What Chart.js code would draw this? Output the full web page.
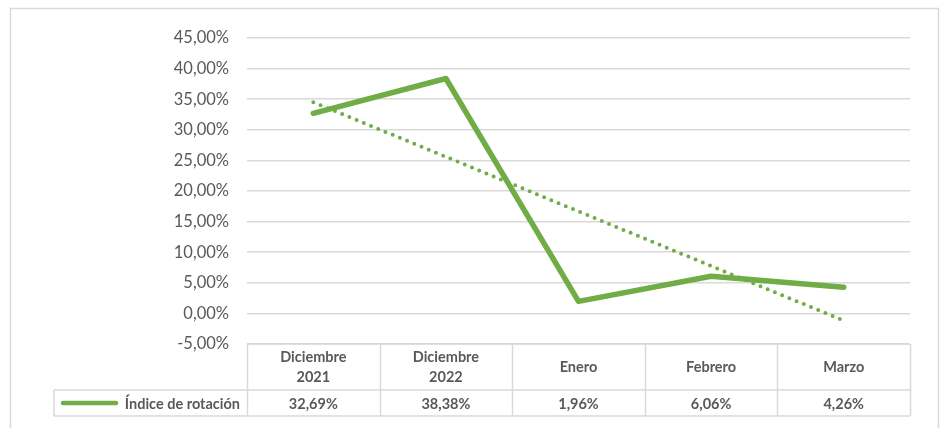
<!DOCTYPE html>
<html lang="es">
<head>
    <meta charset="UTF-8">
    <title>Índice de rotación</title>
    <script src="https://cdn.jsdelivr.net/npm/chart.js"></script>
    <style>
        html, body { margin: 0; padding: 0; background: #fff; }
        #wrap { width: 940px; height: 428px; position: relative; }
    </style>
</head>
<body>
    <div id="wrap"><canvas id="grafico"></canvas></div>

    <script>
        // datos
        const categorias = [['Diciembre', '2021'], ['Diciembre', '2022'], ['Enero'], ['Febrero'], ['Marzo']];
        const serieNombre = 'Índice de rotación';
        const indiceRotacion = [32.69, 38.38, 1.96, 6.06, 4.26];
        // linea de tendencia (extremos)
        const tendenciaInicio = 34.51;
        const tendenciaFin = -1.17;
        const ejeY = { min: -5, max: 45, paso: 5 };

        const verde = '#70AD47';
        const gris = '#595959';
        const linea = '#d9d9d9';
        const fuente = 'Lato, "Open Sans", sans-serif';

        function pct(v) {
            return v.toFixed(2).replace('.', ',') + '%';
        }

        const tendencia = categorias.map((c, i) =>
            i === 0 ? tendenciaInicio : (i === categorias.length - 1 ? tendenciaFin : null));

        // marco exterior + tabla de datos
        const tablaPlugin = {
            id: 'tabla',
            beforeDraw(chart) {
                const ctx = chart.ctx;
                ctx.save();
                ctx.fillStyle = '#fff';
                ctx.fillRect(0, 0, chart.width, chart.height);
                ctx.strokeStyle = '#d9d9d9';
                ctx.lineWidth = 1.5;
                ctx.beginPath();
                ctx.moveTo(10.5, 440);
                ctx.lineTo(10.5, 8.5);
                ctx.lineTo(938.5, 8.5);
                ctx.lineTo(938.5, 440);
                ctx.stroke();
                ctx.restore();
            },
            afterDraw(chart) {
                const ctx = chart.ctx;
                const x = chart.scales.x;
                const area = chart.chartArea;
                const n = categorias.length;
                const colW = (area.right - area.left) / n;
                const top = area.bottom;
                const mid = top + 46;
                const bot = mid + 26;
                const legL = 54;

                ctx.save();
                ctx.strokeStyle = linea;
                ctx.lineWidth = 1.5;
                ctx.beginPath();
                // filas
                ctx.moveTo(area.left, top); ctx.lineTo(area.right, top);
                ctx.moveTo(legL, mid); ctx.lineTo(area.right, mid);
                ctx.moveTo(legL, bot); ctx.lineTo(area.right, bot);
                // columnas
                ctx.moveTo(legL, mid); ctx.lineTo(legL, bot);
                for (let i = 0; i <= n; i++) {
                    const cx = Math.round(area.left + i * colW) + 0.5;
                    ctx.moveTo(cx, top); ctx.lineTo(cx, bot);
                }
                ctx.stroke();

                ctx.fillStyle = gris;
                ctx.font = 'bold 14.5px ' + fuente;
                ctx.textAlign = 'center';
                ctx.textBaseline = 'middle';
                categorias.forEach((lineas, i) => {
                    const cx = x.getPixelForTick(i);
                    const cy = (top + mid) / 2;
                    const h = 20;
                    lineas.forEach((t, k) => {
                        ctx.fillText(t, cx, cy + (k - (lineas.length - 1) / 2) * h);
                    });
                    ctx.fillText(pct(indiceRotacion[i]), cx, (mid + bot) / 2 + 1);
                });

                // leyenda
                const ly = (mid + bot) / 2;
                ctx.strokeStyle = verde;
                ctx.lineWidth = 4.5;
                ctx.lineCap = 'round';
                ctx.beginPath();
                ctx.moveTo(63, ly); ctx.lineTo(116, ly);
                ctx.stroke();
                ctx.textAlign = 'right';
                ctx.fillText(serieNombre, area.left - 7, ly + 1);
                ctx.restore();
            }
        };

        new Chart(document.getElementById('grafico'), {
            type: 'line',
            data: {
                labels: categorias,
                datasets: [
                    {
                        label: 'Tendencia',
                        data: tendencia,
                        borderColor: verde,
                        borderWidth: 4,
                        borderDash: [0, 7.8],
                        borderCapStyle: 'round',
                        spanGaps: true,
                        pointRadius: 0,
                        order: 0
                    },
                    {
                        label: serieNombre,
                        data: indiceRotacion,
                        borderColor: verde,
                        borderWidth: 5.5,
                        borderCapStyle: 'round',
                        borderJoinStyle: 'round',
                        pointRadius: 0,
                        tension: 0,
                        order: 1
                    }
                ]
            },
            options: {
                responsive: true,
                maintainAspectRatio: false,
                animation: false,
                layout: { padding: { top: 38, right: 30, bottom: 0, left: 0 } },
                plugins: {
                    legend: { display: false },
                    tooltip: { enabled: false }
                },
                scales: {
                    x: {
                        offset: true,
                        grid: { display: false },
                        border: { display: false },
                        ticks: { display: false },
                        afterFit(s) { s.height = 84; }
                    },
                    y: {
                        min: ejeY.min,
                        max: ejeY.max,
                        ticks: {
                            stepSize: ejeY.paso,
                            color: gris,
                            padding: 18,
                            font: { family: fuente, size: 16.5 },
                            callback: v => pct(v)
                        },
                        grid: { color: linea, lineWidth: 1.5, drawTicks: false },
                        border: { display: false },
                        afterFit(s) { s.width = 247; }
                    }
                }
            },
            plugins: [tablaPlugin]
        });
    </script>
</body>
</html>
